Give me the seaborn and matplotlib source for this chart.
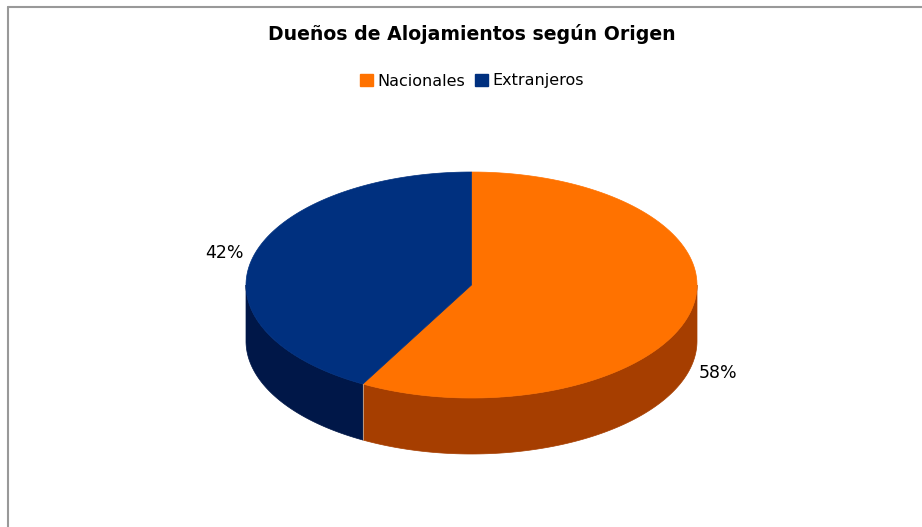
import numpy as np
import matplotlib
matplotlib.use("Agg")
import matplotlib.pyplot as plt
from matplotlib.patches import Polygon, Patch
import seaborn as sns

# data
categories = ["Nacionales", "Extranjeros"]
shares = [58, 42]
top_colors = ["#ff7200", "#00307f"]
side_colors = ["#a63e00", "#001748"]

sns.set_theme(style="white")
plt.rcParams['font.family'] = ['DejaVu Sans']
plt.rcParams['text.color'] = 'black'

fig = plt.figure(figsize=(9.22, 5.27), dpi=100)
ax = fig.add_axes([0, 0, 1, 1])
ax.set_xlim(0, 922)
ax.set_ylim(527, 0)
ax.axis("off")

# pie geometry (pixel space)
cx, cy, rx, ry, depth = 471.5, 285, 225.5, 113, 56


def arc(t0, t1, n=120, dy=0):
    t = np.radians(np.linspace(t0, t1, n))
    return np.column_stack([cx + rx * np.cos(t), cy - ry * np.sin(t) + dy])


# slice angles, clockwise from 12 o'clock
fracs = np.array(shares) / sum(shares)
starts = 90 - 360 * np.concatenate([[0], np.cumsum(fracs)[:-1]])
ends = starts - 360 * fracs

# side walls (front half only: angles -180..0)
for s, e, col in zip(starts, ends, side_colors):
    for shift in (0, 360, -360):
        lo = max(e + shift, -180)
        hi = min(s + shift, 0)
        if hi > lo:
            upper = arc(lo, hi)
            lower = arc(hi, lo, dy=depth)
            ax.add_patch(Polygon(np.vstack([upper, lower]), closed=True,
                                 facecolor=col, edgecolor=col, lw=0.5))
# light seam where side walls meet
for s in starts:
    for shift in (0, 360, -360):
        a = s + shift
        if -180 < a < 0:
            p = arc(a, a, n=1)[0]
            ax.plot([p[0], p[0]], [p[1], p[1] + depth], color="#c9a890", lw=0.6)

# top faces
for s, e, col in zip(starts, ends, top_colors):
    pts = np.vstack([[cx, cy], arc(s, e)])
    ax.add_patch(Polygon(pts, closed=True, facecolor=col, edgecolor=col, lw=0.5))

# percentage labels
for s, e, v in zip(starts, ends, shares):
    m = np.radians((s + e) / 2)
    lx = cx + 1.13 * rx * np.cos(m)
    ly = cy - 1.13 * ry * np.sin(m)
    if np.sin(m) < 0:
        ly += depth
    ax.text(lx, ly, f"{v}%", ha="center", va="center", fontsize=12.5, color="black")

# frame lines (top and left)
ax.plot([8, 922], [7, 7], color="#999999", lw=1.5)
ax.plot([8, 8], [7, 527], color="#999999", lw=1.5)

ax.text(472, 34, "Dueños de Alojamientos según Origen", ha="center", va="center",
        fontsize=13.6, fontweight="bold", color="black")

handles = [Patch(facecolor=c, edgecolor=c) for c in top_colors]
fig.legend(handles, categories, loc="center", bbox_to_anchor=(472 / 922, 1 - 81 / 527),
           ncol=2, frameon=False, fontsize=11.5, handlelength=0.8, handleheight=0.8,
           handletextpad=0.3, columnspacing=0.6, labelcolor="black")

fig.savefig("out.png", dpi=100, facecolor="white")
